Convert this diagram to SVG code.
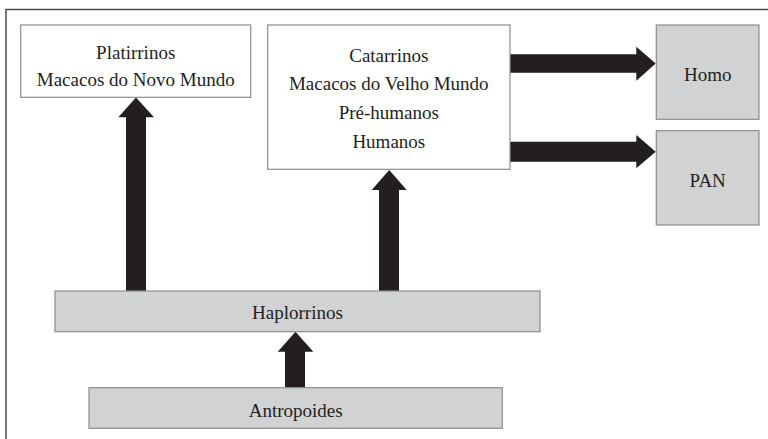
<svg xmlns="http://www.w3.org/2000/svg" width="768" height="439" viewBox="0 0 768 439">
<style>
.box{stroke:#8c8c8c;stroke-width:1.2}
.w{fill:#ffffff}
.g{fill:#d1d2d4}
.t{font-family:"Liberation Serif","Times New Roman",serif;font-size:19px;fill:#231f20;text-anchor:middle}
.arr{fill:#231f20}
</style>
<rect x="0" y="0" width="768" height="439" fill="#ffffff"/>
<rect x="6" y="9.5" width="800" height="500" fill="none" stroke="#4a4a4a" stroke-width="1.5"/>
<g id="connectors">
<polygon class="arr" points="126,291 126,117.3 118.3,117.3 136,97.5 154,117.3 146,117.3 146,291"/>
<polygon class="arr" points="379,291 379,190 371.7,190 389.2,170 406.7,190 399,190 399,291"/>
<polygon class="arr" points="285,387.7 285,351.7 277.7,351.7 295.5,331.7 313.3,351.7 305,351.7 305,387.7"/>
<polygon class="arr" points="510,54.3 636.3,54.3 636.3,46.7 655.7,63.5 636.3,80.7 636.3,72.7 510,72.7"/>
<polygon class="arr" points="510,141.7 636.3,141.7 636.3,135 655.7,151.7 636.3,168.3 636.3,161.7 510,161.7"/>
</g>
<g id="platirrinos">
<rect class="box w" x="20.7" y="25" width="230" height="72.3"/>
<text class="t" x="135.7" y="59.3">Platirrinos</text>
<text class="t" x="135.7" y="86">Macacos do Novo Mundo</text>
</g>
<g id="catarrinos">
<rect class="box w" x="267.7" y="25" width="242.3" height="144.3"/>
<text class="t" x="388.8" y="61.7">Catarrinos</text>
<text class="t" x="388.8" y="90">Macacos do Velho Mundo</text>
<text class="t" x="388.8" y="118.5">Pré-humanos</text>
<text class="t" x="388.8" y="147.5">Humanos</text>
</g>
<g id="homo">
<rect class="box g" x="656.3" y="25" width="102.7" height="94.3"/>
<text class="t" x="707.7" y="80.7">Homo</text>
</g>
<g id="pan">
<rect class="box g" x="656.3" y="130.7" width="102.7" height="94.3"/>
<text class="t" x="707.7" y="187">PAN</text>
</g>
<g id="haplorrinos">
<rect class="box g" x="55" y="291" width="485" height="40.7"/>
<text class="t" x="297.5" y="319.3">Haplorrinos</text>
</g>
<g id="antropoides">
<rect class="box g" x="89" y="387.7" width="413.3" height="40.6"/>
<text class="t" x="295.7" y="416.7">Antropoides</text>
</g>
</svg>
